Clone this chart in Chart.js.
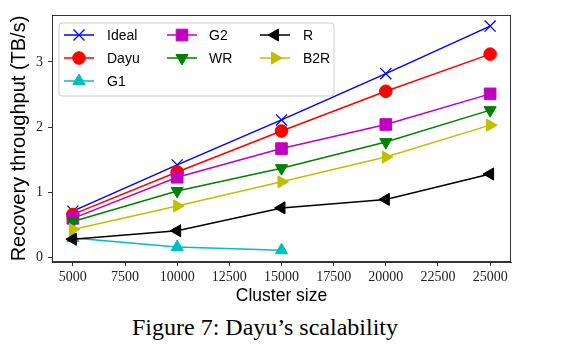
<!DOCTYPE html>
<html>
<head>
<meta charset="utf-8">
<script src="https://cdn.jsdelivr.net/npm/chart.js@4/dist/chart.umd.min.js"></script>
<style>
html,body{margin:0;padding:0;background:#fff;width:574px;height:355px;overflow:hidden;}
#wrap{position:absolute;left:0;top:0;width:574px;height:310px;}
#cap{position:absolute;left:0;width:530px;top:313px;line-height:28px;text-align:center;font-family:"Liberation Serif",serif;font-size:24px;color:#000;}
</style>
</head>
<body>
<div id="wrap"><canvas id="c" width="574" height="310"></canvas></div>
<div id="cap">Figure 7: Dayu’s scalability</div>
<script>
const clusterSizes = [5000, 10000, 15000, 20000, 25000];
const seriesNames = ["Ideal", "Dayu", "G1", "G2", "WR", "R", "B2R"];
const ideal = [0.71, 1.42, 2.11, 2.82, 3.55];
const dayu  = [0.66, 1.31, 1.94, 2.55, 3.12];
const g1    = [0.30, 0.16, 0.11];
const g2    = [0.60, 1.23, 1.67, 2.04, 2.51];
const wr    = [0.55, 1.02, 1.37, 1.77, 2.26];
const r     = [0.28, 0.41, 0.76, 0.89, 1.28];
const b2r   = [0.43, 0.79, 1.16, 1.54, 2.03];
const xTickValues = [5000, 7500, 10000, 12500, 15000, 17500, 20000, 22500, 25000];
const yTickValues = [0, 1, 2, 3];

const values = [ideal, dayu, g1, g2, wr, r, b2r];
const styles = [
  {c:'#0000ff', ps:'crossRot', rad:7.8, rot:0, bw:1.3},
  {c:'#ff0000', ps:'circle', rad:6.3, rot:0, bw:1},
  {c:'#00bfbf', ps:'triangle', rad:7, rot:0, bw:1},
  {c:'#bf00bf', ps:'rect', rad:8.2, rot:0, bw:1},
  {c:'#008000', ps:'triangle', rad:7, rot:180, bw:1},
  {c:'#000000', ps:'triangle', rad:7, rot:-90, bw:1},
  {c:'#bfbf00', ps:'triangle', rad:7, rot:90, bw:1}
];
const datasets = seriesNames.map((name, i) => ({
  label: name,
  data: values[i].map((v, j) => ({x: clusterSizes[j], y: v})),
  borderColor: styles[i].c,
  backgroundColor: styles[i].c,
  borderWidth: 1.5,
  pointStyle: styles[i].ps,
  pointRadius: styles[i].rad,
  pointHoverRadius: styles[i].rad,
  pointRotation: styles[i].rot,
  pointBorderWidth: styles[i].bw,
  tension: 0,
  order: seriesNames.length - i
}));

const legendCols = [[0,1,2],[3,4],[5,6]];
const legendPlugin = {
  id: 'mplLegend',
  afterDatasetsDraw(chart) {
    const ctx = chart.ctx;
    ctx.save();
    const bx = 59, by = 23, bw = 275, bh = 73, rr = 3;
    ctx.beginPath();
    ctx.moveTo(bx + rr, by);
    ctx.arcTo(bx + bw, by, bx + bw, by + bh, rr);
    ctx.arcTo(bx + bw, by + bh, bx, by + bh, rr);
    ctx.arcTo(bx, by + bh, bx, by, rr);
    ctx.arcTo(bx, by, bx + bw, by, rr);
    ctx.closePath();
    ctx.fillStyle = 'rgba(255,255,255,0.85)';
    ctx.fill();
    ctx.strokeStyle = '#cccccc';
    ctx.lineWidth = 1;
    ctx.stroke();
    const colX = [64, 167, 260];
    const textX = [107, 209, 303];
    const rowY = [35, 58, 81];
    ctx.font = '14px "Liberation Sans", Arial, sans-serif';
    ctx.textBaseline = 'middle';
    ctx.textAlign = 'left';
    legendCols.forEach((col, ci) => {
      col.forEach((di, ri) => {
        const ds = chart.data.datasets[di];
        const y = rowY[ri];
        ctx.beginPath();
        ctx.strokeStyle = ds.borderColor;
        ctx.lineWidth = 1.5;
        ctx.moveTo(colX[ci], y);
        ctx.lineTo(colX[ci] + 30, y);
        ctx.stroke();
        ctx.fillStyle = ds.backgroundColor;
        ctx.strokeStyle = ds.borderColor;
        ctx.lineWidth = ds.pointBorderWidth;
        Chart.helpers.drawPoint(ctx, {pointStyle: ds.pointStyle, rotation: ds.pointRotation, radius: ds.pointRadius, borderWidth: ds.pointBorderWidth}, colX[ci] + 15, y);
        ctx.fillStyle = '#000';
        ctx.fillText(ds.label, textX[ci], y + 1);
      });
    });
    ctx.restore();
  }
};
const framePlugin = {
  id: 'frame',
  afterDraw(chart) {
    const a = chart.chartArea, ctx = chart.ctx;
    ctx.save();
    ctx.strokeStyle = '#333';
    ctx.lineWidth = 1;
    ctx.strokeRect(Math.round(a.left) + 0.5, Math.round(a.top) + 0.5, Math.round(a.right - a.left) - 1, Math.round(a.bottom - a.top) - 1);
    ctx.restore();
  }
};

new Chart(document.getElementById('c'), {
  type: 'line',
  data: { datasets },
  plugins: [legendPlugin, framePlugin],
  options: {
    responsive: false,
    animation: false,
    events: [],
    layout: { padding: { top: 15, right: 63, left: 0, bottom: 0 } },
    plugins: { legend: { display: false }, tooltip: { enabled: false } },
    scales: {
      x: {
        type: 'linear', min: 4000, max: 26000,
        afterBuildTicks: s => { s.ticks = xTickValues.map(v => ({value: v})); },
        afterFit: s => { s.height = 48; },
        grid: { drawOnChartArea: false, drawTicks: true, tickLength: 4, color: '#333' },
        border: { color: '#333' },
        ticks: { padding: 3, maxRotation: 0, autoSkip: false, color: '#222', font: { family: '"Liberation Serif", serif', size: 14 }, callback: v => String(v) },
        title: { display: true, text: 'Cluster size', color: '#000', padding: { top: 0, bottom: 3 }, font: { family: '"Liberation Sans", Arial, sans-serif', size: 17.5 } }
      },
      y: {
        type: 'linear', min: -0.07, max: 3.72,
        afterBuildTicks: s => { s.ticks = yTickValues.map(v => ({value: v})); },
        afterFit: s => { s.width = 52; },
        grid: { drawOnChartArea: false, drawTicks: true, tickLength: 4, color: '#333' },
        border: { color: '#333' },
        ticks: { padding: 5, color: '#222', font: { family: '"Liberation Serif", serif', size: 14 }, callback: v => String(v) },
        title: { display: true, text: 'Recovery throughput (TB/s)', color: '#000', padding: { top: 7, bottom: 0 }, font: { family: '"Liberation Sans", Arial, sans-serif', size: 20 } }
      }
    }
  }
});
</script>
</body>
</html>
